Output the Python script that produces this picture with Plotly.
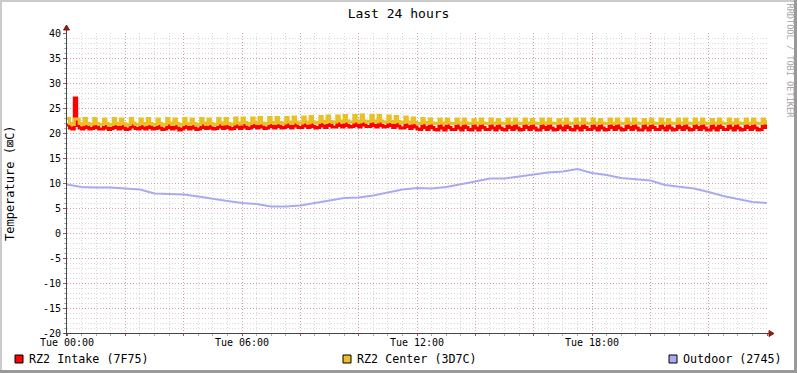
import plotly.graph_objects as go

# ---------------- data ----------------
title_text = "Last 24 hours"
x_tick_labels = ["Tue 00:00", "Tue 06:00", "Tue 12:00", "Tue 18:00"]
x_tick_hours = [0, 6, 12, 18]
series_names = ["RZ2 Intake (7F75)", "RZ2 Center (3D7C)", "Outdoor (2745)"]

# 5-minute samples, one row per hour (hours since Tue 00:00)
intake = [
    21.6, 21.0, 20.8, 27.0, 21.5, 21.0, 20.8, 21.6, 21.1, 20.8, 20.9, 21.7,
    21.1, 20.8, 20.8, 21.6, 21.0, 20.7, 20.9, 21.7, 21.1, 20.8, 21.6, 21.0,
    20.7, 20.8, 21.7, 21.2, 20.9, 20.8, 21.6, 21.0, 20.8, 21.7, 21.1, 20.8,
    20.9, 21.6, 21.0, 20.7, 20.8, 21.7, 21.1, 20.8, 21.6, 21.0, 20.6, 20.8,
    21.7, 21.1, 20.8, 21.6, 21.0, 20.7, 20.8, 21.7, 21.1, 20.9, 21.6, 21.0,
    20.8, 20.9, 21.7, 21.2, 20.9, 21.7, 21.1, 20.8, 20.9, 21.8, 21.2, 20.9,
    21.8, 21.2, 20.9, 21.0, 21.8, 21.3, 21.0, 21.9, 21.2, 20.9, 21.0, 21.9,
    21.3, 21.0, 21.9, 21.3, 21.0, 21.1, 21.9, 21.3, 21.0, 21.9, 21.4, 21.1,
    21.1, 22.0, 21.4, 21.1, 22.0, 21.3, 21.0, 21.1, 22.0, 21.4, 21.1, 22.1,
    21.5, 21.2, 21.2, 22.1, 21.5, 21.2, 22.1, 21.5, 21.2, 21.3, 22.2, 21.5,
    21.2, 22.2, 21.6, 21.3, 21.3, 22.2, 21.5, 21.2, 22.1, 21.5, 21.2, 21.3,
    22.1, 21.5, 21.1, 22.0, 21.4, 21.0, 21.0, 21.9, 21.3, 20.9, 21.8, 21.2,
    20.8, 20.7, 21.7, 21.1, 20.7, 21.7, 21.1, 20.7, 20.6, 21.6, 21.0, 20.6,
    21.7, 21.1, 20.7, 20.7, 21.6, 21.0, 20.6, 21.7, 21.1, 20.7, 20.6, 21.6,
    21.0, 20.6, 21.7, 21.1, 20.7, 20.7, 21.7, 21.0, 20.6, 21.6, 21.0, 20.7,
    20.6, 21.7, 21.1, 20.7, 21.6, 21.0, 20.6, 20.7, 21.7, 21.1, 20.7, 21.6,
    21.0, 20.6, 20.6, 21.7, 21.1, 20.7, 21.7, 21.0, 20.6, 20.7, 21.6, 21.0,
    20.6, 21.7, 21.1, 20.7, 20.6, 21.6, 21.0, 20.6, 21.7, 21.1, 20.7, 20.7,
    21.7, 21.0, 20.6, 21.6, 21.0, 20.6, 20.7, 21.7, 21.1, 20.7, 21.6, 21.0,
    20.6, 20.7, 21.7, 21.1, 20.7, 21.7, 21.0, 20.6, 20.6, 21.6, 21.0, 20.6,
    21.7, 21.1, 20.7, 20.7, 21.7, 21.0, 20.6, 21.6, 21.0, 20.6, 20.7, 21.7,
    21.1, 20.7, 21.6, 21.0, 20.6, 20.7, 21.7, 21.1, 20.7, 21.7, 21.0, 20.6,
    20.6, 21.6, 21.0, 20.6, 21.7, 21.1, 20.7, 20.7, 21.7, 21.0, 20.6, 21.6,
    21.0, 20.6, 20.7, 21.7, 21.1, 20.7, 21.6, 21.0, 20.6, 20.7, 21.7, 21.1,
    21.8,
]
center = [
    22.9, 21.9, 21.7, 22.8, 22.8, 21.9, 21.7, 22.9, 21.9, 21.7, 21.8, 22.9,
    21.9, 21.7, 21.7, 22.8, 21.9, 21.6, 21.7, 22.9, 21.9, 21.7, 22.8, 21.9,
    21.6, 21.7, 22.9, 22.0, 21.7, 21.7, 22.8, 21.9, 21.7, 22.9, 21.9, 21.7,
    21.7, 22.8, 21.9, 21.6, 21.7, 22.9, 22.0, 21.7, 22.8, 21.9, 21.6, 21.7,
    22.9, 21.9, 21.7, 22.8, 21.9, 21.6, 21.7, 22.9, 22.0, 21.7, 22.8, 21.9,
    21.7, 21.7, 22.9, 22.0, 21.8, 22.9, 21.9, 21.7, 21.8, 23.0, 22.0, 21.8,
    23.0, 22.1, 21.8, 21.9, 23.0, 22.1, 21.9, 23.1, 22.0, 21.8, 21.9, 23.1,
    22.1, 21.9, 23.1, 22.1, 21.9, 22.0, 23.1, 22.2, 21.9, 23.2, 22.2, 22.0,
    22.0, 23.2, 22.2, 22.0, 23.3, 22.2, 22.0, 22.1, 23.3, 22.3, 22.1, 23.4,
    22.3, 22.1, 22.2, 23.4, 22.4, 22.2, 23.5, 22.4, 22.2, 22.2, 23.5, 22.4,
    22.2, 23.6, 22.4, 22.2, 22.3, 23.5, 22.4, 22.2, 23.5, 22.4, 22.2, 22.2,
    23.4, 22.3, 22.1, 23.3, 22.3, 22.0, 22.1, 23.2, 22.2, 22.0, 23.0, 22.1,
    21.9, 21.9, 22.9, 22.1, 21.9, 22.8, 22.0, 21.9, 21.9, 22.8, 22.0, 21.9,
    22.8, 22.0, 21.9, 21.9, 22.8, 22.0, 21.9, 22.8, 22.0, 21.9, 21.9, 22.7,
    22.0, 21.9, 22.8, 22.0, 21.9, 21.9, 22.8, 22.0, 21.9, 22.7, 22.0, 21.9,
    21.9, 22.8, 22.0, 21.9, 22.8, 22.0, 21.9, 21.9, 22.8, 22.0, 21.9, 22.7,
    22.0, 21.9, 21.9, 22.8, 22.0, 21.9, 22.8, 22.0, 21.9, 21.9, 22.7, 22.0,
    21.9, 22.8, 22.0, 21.9, 21.9, 22.8, 22.0, 21.9, 22.8, 22.0, 21.9, 21.9,
    22.8, 22.0, 21.9, 22.7, 22.0, 21.9, 21.9, 22.8, 22.0, 21.9, 22.8, 22.0,
    21.9, 21.9, 22.8, 22.0, 21.9, 22.8, 22.0, 21.9, 21.9, 22.7, 22.0, 21.9,
    22.8, 22.0, 21.9, 21.9, 22.8, 22.0, 21.9, 22.7, 22.0, 21.9, 21.9, 22.8,
    22.0, 21.9, 22.8, 22.0, 21.9, 21.9, 22.8, 22.0, 21.9, 22.8, 22.0, 21.9,
    21.9, 22.7, 22.0, 21.9, 22.8, 22.0, 21.9, 21.9, 22.8, 22.0, 21.9, 22.7,
    22.0, 21.9, 21.9, 22.8, 22.0, 21.9, 22.8, 22.0, 21.9, 21.9, 22.8, 22.0,
    22.6,
]
# 30-minute samples
outdoor = [
    9.7, 9.2, 9.1, 9.1, 8.9, 8.7, 7.9, 7.8, 7.7, 7.3,
    6.8, 6.4, 6.0, 5.8, 5.3, 5.3, 5.5, 6.0, 6.6, 7.0,
    7.1, 7.5, 8.1, 8.7, 9.0, 8.9, 9.2, 9.7, 10.3, 10.9,
    10.9, 11.3, 11.7, 12.1, 12.3, 12.8, 12.0, 11.6, 11.0, 10.8,
    10.5, 9.6, 9.3, 8.9, 8.2, 7.4, 6.8, 6.2, 6.0,
]
y_ticks = [-20, -15, -10, -5, 0, 5, 10, 15, 20, 25, 30, 35, 40]

step5 = 5 / 60
step30 = 0.5
t5 = [i * step5 for i in range(len(intake))]
t30 = [i * step30 for i in range(len(outdoor))]

colors = ["#FF0000", "#EAC024", "#AAAAF2"]
FONT = "DejaVu Sans Mono"

W, H = 797, 373
L, R, T, B = 67, 767, 33, 333


def px(x):
    return (x - L) / (R - L)


def py(y):
    return (B - y) / (B - T)


fig = go.Figure()
fig.add_trace(go.Scatter(x=t5, y=intake, mode="lines", line=dict(color=colors[0], width=3, shape="hv"),
                         name=series_names[0], showlegend=False))
fig.add_trace(go.Scatter(x=t5, y=center, mode="lines", line=dict(color=colors[1], width=3, shape="hv"),
                         name=series_names[1], showlegend=False))
fig.add_trace(go.Scatter(x=t30, y=outdoor, mode="lines", line=dict(color=colors[2], width=2),
                         name=series_names[2], showlegend=False))

major_grid = "rgba(210,70,70,0.38)"
minor_grid = "rgba(140,140,140,0.33)"

x_major = list(range(0, 25, 2))
x_text = [x_tick_labels[x_tick_hours.index(v)] if v in x_tick_hours else "" for v in x_major]

fig.update_xaxes(
    range=[0, 24], tickmode="array", tickvals=x_major, ticktext=x_text,
    showgrid=True, gridcolor=major_grid, griddash="1px,2px", gridwidth=1,
    ticks="outside", ticklen=2, tickcolor="#D04040", tickwidth=1, ticklabelstandoff=-2,
    minor=dict(tickmode="linear", tick0=0, dtick=0.5, showgrid=True, gridcolor=minor_grid,
               griddash="1px,2px", ticks="outside", ticklen=2, tickcolor="#B0B0B0"),
    showline=False, zeroline=False, fixedrange=True,
    tickfont=dict(family=FONT, size=10, color="#000000"),
)
fig.update_yaxes(
    range=[-20, 40], tickmode="array", tickvals=y_ticks, ticktext=[str(v) for v in y_ticks],
    showgrid=True, gridcolor=major_grid, griddash="1px,2px", gridwidth=1,
    ticks="outside", ticklen=3, tickcolor="#D04040",
    minor=dict(tickmode="linear", tick0=0, dtick=1, showgrid=True, gridcolor=minor_grid,
               griddash="1px,2px", ticks="outside", ticklen=2, tickcolor="#B0B0B0"),
    showline=False, zeroline=False, fixedrange=True,
    tickfont=dict(family=FONT, size=10, color="#000000"),
)

shapes = []
# frame (3D border)
shapes.append(dict(type="rect", xref="paper", yref="paper", x0=px(0), x1=px(2), y0=py(H), y1=py(0),
                   fillcolor="#CBCBCB", line=dict(width=0), layer="above"))
shapes.append(dict(type="rect", xref="paper", yref="paper", x0=px(0), x1=px(W), y0=py(2), y1=py(0),
                   fillcolor="#CBCBCB", line=dict(width=0), layer="above"))
shapes.append(dict(type="rect", xref="paper", yref="paper", x0=px(W - 3), x1=px(W), y0=py(H), y1=py(0),
                   fillcolor="#999999", line=dict(width=0), layer="above"))
shapes.append(dict(type="rect", xref="paper", yref="paper", x0=px(0), x1=px(W), y0=py(H), y1=py(H - 3),
                   fillcolor="#999999", line=dict(width=0), layer="above"))
# axes lines
axis_col = "#404848"
shapes.append(dict(type="line", xref="paper", yref="paper", x0=px(L - 0.5), x1=px(L - 0.5), y0=py(B + 3), y1=py(T - 6),
                   line=dict(color=axis_col, width=1), layer="above"))
shapes.append(dict(type="line", xref="paper", yref="paper", x0=px(L - 3), x1=px(R + 5), y0=py(B + 0.5), y1=py(B + 0.5),
                   line=dict(color=axis_col, width=1), layer="above"))
# arrows
arrow_col = "#8B1A1A"
ax_top = T - 8
shapes.append(dict(type="path", xref="paper", yref="paper",
                   path=f"M {px(L - 3.5)} {py(ax_top + 5)} L {px(L + 2.5)} {py(ax_top + 5)} L {px(L - 0.5)} {py(ax_top)} Z",
                   fillcolor=arrow_col, line=dict(color=arrow_col, width=1), layer="above"))
ax_right = R + 7
shapes.append(dict(type="path", xref="paper", yref="paper",
                   path=f"M {px(ax_right - 5)} {py(B - 2.5)} L {px(ax_right - 5)} {py(B + 3.5)} L {px(ax_right)} {py(B + 0.5)} Z",
                   fillcolor=arrow_col, line=dict(color=arrow_col, width=1), layer="above"))

# legend swatches
legend_x = [15, 343, 669]
legend_y = 359
for lx, c in zip(legend_x, colors):
    shapes.append(dict(type="rect", xref="paper", yref="paper", x0=px(lx), x1=px(lx + 8),
                       y0=py(legend_y + 4), y1=py(legend_y - 4),
                       fillcolor=c, line=dict(color="#000000", width=1), layer="above"))

annotations = []
for lx, name in zip(legend_x, series_names):
    annotations.append(dict(text=name, xref="paper", yref="paper", x=px(lx + 12), y=py(legend_y),
                            xanchor="left", yanchor="middle", showarrow=False,
                            font=dict(family=FONT, size=11.7, color="#000000")))
annotations.append(dict(text="Temperature (⊠C)", xref="paper", yref="paper", x=px(10), y=py(183),
                        xanchor="center", yanchor="middle", showarrow=False, textangle=-90,
                        font=dict(family=FONT, size=12, color="#000000")))
annotations.append(dict(text="RRDTOOL / TOBI OETIKER", xref="paper", yref="paper", x=px(789.5), y=py(61),
                        xanchor="center", yanchor="middle", showarrow=False, textangle=90,
                        font=dict(family=FONT, size=8.6, color="#A8A8A8")))

fig.update_layout(
    width=W, height=H, autosize=False,
    margin=dict(l=L, r=W - R, t=T, b=H - B, pad=0),
    paper_bgcolor="#FFFFFF", plot_bgcolor="#FFFFFF",
    title=dict(text=title_text, x=0.5, xanchor="center", xref="container",
               y=1 - 13 / H, yanchor="middle", yref="container",
               font=dict(family=FONT, size=13, color="#000000")),
    shapes=shapes, annotations=annotations,
    showlegend=False,
)

fig.write_html("out.html", config={"displayModeBar": False},
               post_script="document.body.style.margin='0px';document.body.style.overflow='hidden';")
